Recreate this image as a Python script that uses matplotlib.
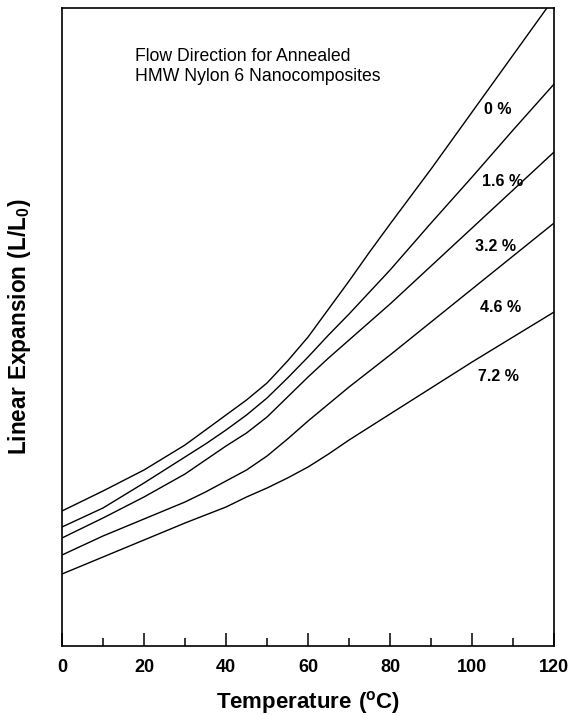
import matplotlib
matplotlib.use("Agg")
import matplotlib.pyplot as plt
from matplotlib.ticker import MultipleLocator, NullLocator

plt.rcParams['font.family'] = ['Liberation Sans', 'DejaVu Sans']
plt.rcParams['mathtext.fontset'] = 'custom'
plt.rcParams['mathtext.rm'] = 'Liberation Sans'
plt.rcParams['mathtext.bf'] = 'Liberation Sans:bold'

# Temperature (deg C) and linear expansion (arbitrary units, axis has no scale)
temperature = [0, 10, 20, 30, 35, 40, 45, 50, 55, 60, 65, 70, 75, 80, 90, 100, 110, 120]
exp_0 = [135, 155, 176, 201, 216, 231, 246, 263, 285, 309, 337, 365, 394, 422, 477, 534, 591, 648]
exp_16 = [119, 138, 163, 189, 202, 216, 231, 248, 268, 289, 311, 332, 354, 376, 423, 469, 516, 562]
exp_32 = [108, 128, 149, 172, 186, 200, 213, 229, 249, 269, 288, 306, 324, 342, 380, 418, 456, 494]
exp_46 = [91, 110, 127, 144, 154, 165, 176, 190, 207, 225, 242, 259, 275, 291, 324, 357, 390, 423]
exp_72 = [72, 89, 106, 123, 131, 139, 149, 158, 168, 179, 192, 206, 219, 232, 258, 284, 309, 334]

series = [exp_0, exp_16, exp_32, exp_46, exp_72]
labels = ["0 %", "1.6 %", "3.2 %", "4.6 %", "7.2 %"]
label_x = [106.3, 107.3, 105.6, 106.8, 106.3]
label_y = [536, 464, 399, 338, 269]

fig = plt.figure(figsize=(5.69, 7.15), dpi=100)
ax = fig.add_axes([0.109, 0.0965, 0.865, 0.8925])

for s in series:
    ax.plot(temperature, s, color='black', lw=1.0, solid_joinstyle='round')

for lx, ly, lab in zip(label_x, label_y, labels):
    ax.text(lx, ly, lab, ha='center', va='center', fontsize=11.5, fontweight='bold')

ax.text(17.8, 579.5, "Flow Direction for Annealed\nHMW Nylon 6 Nanocomposites",
        ha='left', va='center', fontsize=12.7, linespacing=1.2)

ax.set_xlim(0, 120)
ax.set_ylim(0, 638)
ax.xaxis.set_major_locator(MultipleLocator(20))
ax.xaxis.set_minor_locator(MultipleLocator(10))
ax.yaxis.set_major_locator(NullLocator())
ax.tick_params(axis='x', which='major', direction='in', length=9.5, width=1.1, pad=9, labelsize=13)
ax.tick_params(axis='x', which='minor', direction='in', length=6, width=1.1)
for lab in ax.get_xticklabels():
    lab.set_fontweight('bold')
for sp in ax.spines.values():
    sp.set_linewidth(1.2)

ax.set_xlabel(r"$\mathbf{Temperature\ (^{o}C)}$", fontsize=16, labelpad=10)
ax.set_ylabel(r"$\mathbf{Linear\ Expansion\ (L/L_{0})}$", fontsize=16.3, labelpad=21)

fig.savefig("out.png", dpi=100)
